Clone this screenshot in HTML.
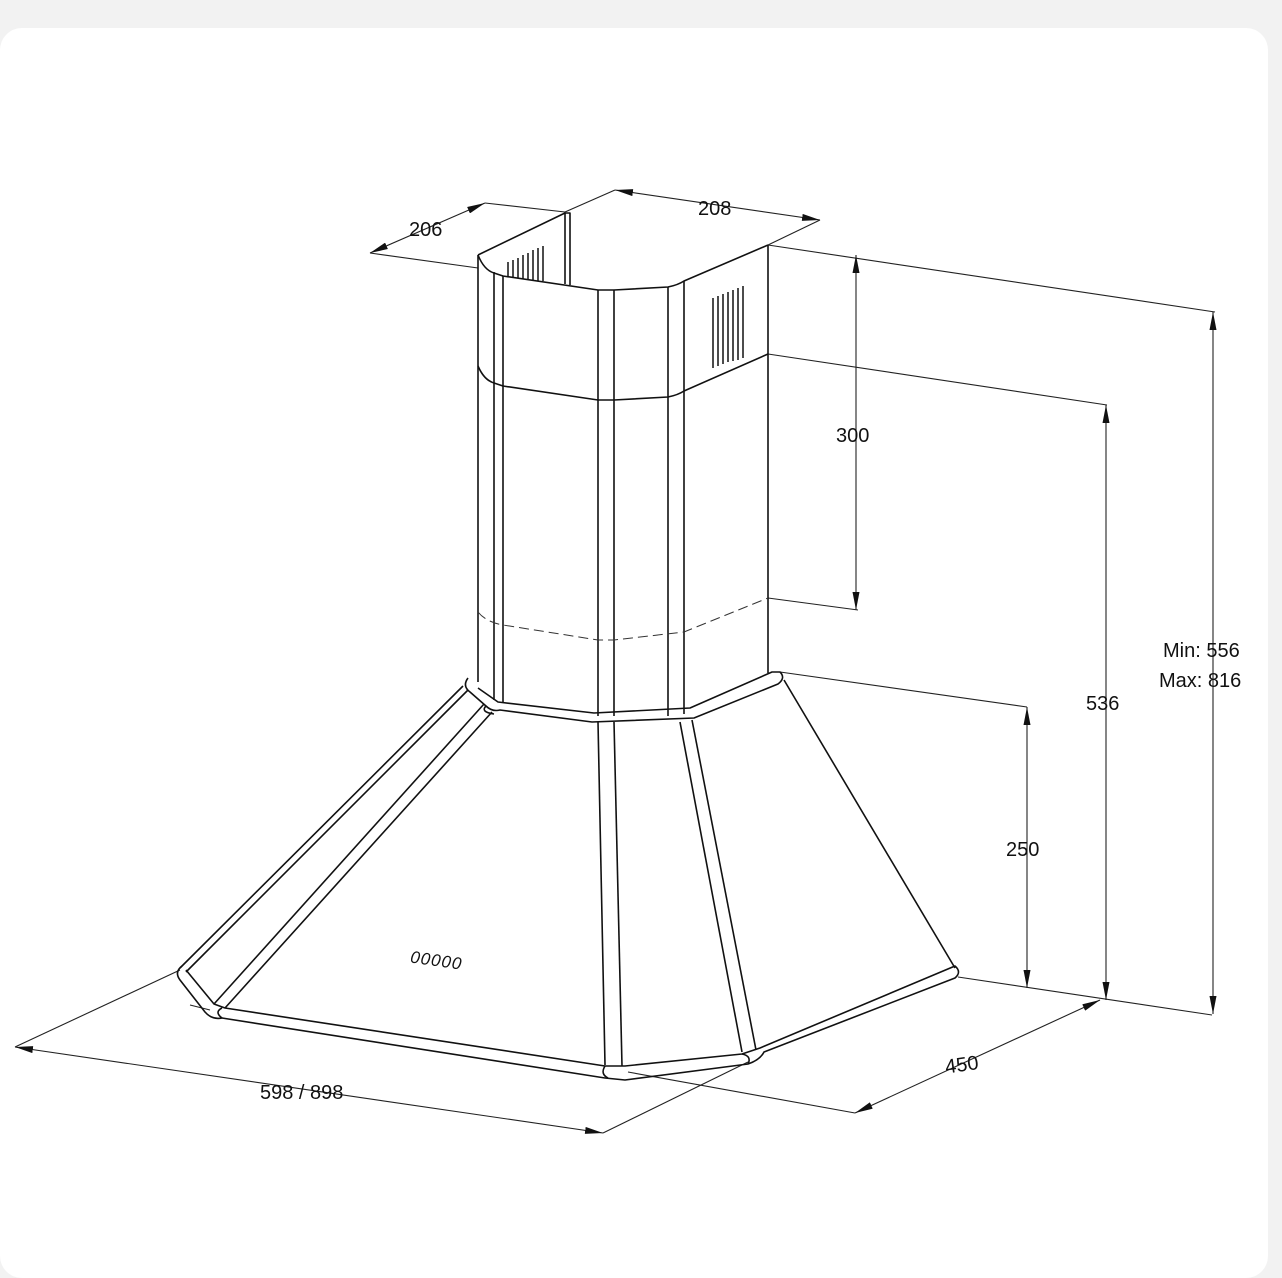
<!DOCTYPE html>
<html><head><meta charset="utf-8"><style>
html,body{margin:0;padding:0;background:#f2f2f2;}
body{width:1282px;height:1259px;position:relative;overflow:hidden;}
.card{position:absolute;left:0;top:28px;width:1268px;height:1250px;background:#fff;border-radius:22px;}
svg{position:absolute;left:0;top:0;}
text{font-family:"Liberation Sans",Arial,sans-serif;font-size:20px;fill:#111;}
</style></head><body>
<div class="card"></div>
<svg width="1282" height="1259" viewBox="0 0 1282 1259">
<defs>
<marker id="a" viewBox="0 0 18 7" refX="18" refY="3.5" markerWidth="18" markerHeight="7" orient="auto-start-reverse" markerUnits="userSpaceOnUse"><path d="M0,0 L18,3.5 L0,7 z" fill="#111"/></marker>
</defs>
<g fill="none" stroke="#222" stroke-width="1.1">
<line x1="370" y1="253" x2="478" y2="268"/>
<line x1="485" y1="203" x2="565" y2="212"/>
<line x1="565" y1="212" x2="615" y2="190"/>
<line x1="768" y1="245" x2="820" y2="220"/>
<line x1="768" y1="245" x2="1215" y2="312"/>
<line x1="768" y1="354" x2="1107" y2="405"/>
<line x1="768" y1="598" x2="858" y2="610"/>
<line x1="780" y1="672" x2="1027" y2="707"/>
<line x1="958" y1="977" x2="1212" y2="1015"/>
<line x1="180" y1="970" x2="15" y2="1047"/>
<line x1="748" y1="1062" x2="603" y2="1133"/>
<line x1="628" y1="1072" x2="855" y2="1113"/>
<line x1="210" y1="1010" x2="190" y2="1005"/>
<line x1="370" y1="253" x2="485" y2="203" marker-start="url(#a)" marker-end="url(#a)"/>
<line x1="615" y1="190" x2="820" y2="220" marker-start="url(#a)" marker-end="url(#a)"/>
<line x1="856" y1="255" x2="856" y2="610" marker-start="url(#a)" marker-end="url(#a)"/>
<line x1="1106" y1="405" x2="1106" y2="1000" marker-start="url(#a)" marker-end="url(#a)"/>
<line x1="1213" y1="312" x2="1213" y2="1014" marker-start="url(#a)" marker-end="url(#a)"/>
<line x1="1027" y1="707" x2="1027" y2="988" marker-start="url(#a)" marker-end="url(#a)"/>
<line x1="855" y1="1113" x2="1100" y2="1000" marker-start="url(#a)" marker-end="url(#a)"/>
<line x1="15" y1="1047" x2="603" y2="1133" marker-start="url(#a)" marker-end="url(#a)"/>
</g>
<g fill="none" stroke="#111" stroke-width="1.6" stroke-linejoin="round">
<path d="M478,255 L565,213 L570,213 L570,285"/>
<line x1="565" y1="213" x2="565" y2="284"/>
<path d="M478,255 Q484,270 494,273 L503,276 L598,290 L614,290 L668,287 Q678,285 684,281 L768,245"/>
<path d="M478,366 Q484,380 494,383 L503,386 L598,400 L614,400 L668,397 Q678,395 684,391 L768,354"/>
<line x1="478" y1="255" x2="478" y2="682"/>
<line x1="494" y1="272" x2="494" y2="700"/>
<line x1="503" y1="276" x2="503" y2="702"/>
<line x1="598" y1="290" x2="598" y2="716"/>
<line x1="614" y1="290" x2="614" y2="716"/>
<line x1="668" y1="287" x2="668" y2="716"/>
<line x1="684" y1="281" x2="684" y2="714"/>
<line x1="768" y1="245" x2="768" y2="673"/>
<path d="M468,678 Q462,686 470,692 L486,706 Q492,712 500,710 L592,722 L694,718 L778,684 Q786,678 780,672 L772,672 L690,708 L594,713 L498,702 L478,688"/>
<path d="M486,706 Q480,712 494,714"/>
<line x1="463" y1="686" x2="180" y2="968"/>
<line x1="468" y1="690" x2="186" y2="972"/>
<line x1="484" y1="704" x2="214" y2="1004"/>
<line x1="492" y1="712" x2="225" y2="1008"/>
<line x1="784" y1="680" x2="955" y2="968"/>
<line x1="598" y1="722" x2="605" y2="1065"/>
<line x1="614" y1="722" x2="622" y2="1066"/>
<line x1="680" y1="722" x2="742" y2="1052"/>
<line x1="692" y1="720" x2="756" y2="1050"/>
<path d="M182,966 Q174,972 180,980 L205,1012 Q212,1020 222,1018 L605,1078 L625,1080 L748,1064 Q760,1060 764,1052 L955,978 Q962,972 955,966 L760,1048 L742,1054 L625,1066 L605,1066 L225,1008 L214,1004 L186,970"/>
<path d="M222,1008 Q214,1012 222,1018"/>
<path d="M605,1066 Q600,1074 608,1078"/>
<path d="M742,1054 Q752,1056 748,1064"/>
</g>
<g fill="none" stroke="#111" stroke-width="1.5">
<path d="M508,277 V262 M513,277 V260 M518,278 V258 M523,279 V255 M528,279 V253 M533,280 V250 M538,281 V248 M543,281 V246"/>
<path d="M713,368 V298 M718,366 V296 M723,364 V294 M728,362 V292 M733,361 V290 M738,360 V288 M743,358 V286"/>
</g>
<path d="M478,612 Q486,622 503,625 L598,640 L614,640 L684,632 L768,598" fill="none" stroke="#333" stroke-width="1" stroke-dasharray="10,5"/>
<text x="409" y="236">206</text>
<text x="698" y="215">208</text>
<text x="836" y="442">300</text>
<text x="1086" y="710">536</text>
<text x="1006" y="856">250</text>
<text x="1163" y="657">Min: 556</text>
<text x="1159" y="687">Max: 816</text>
<text x="945" y="1071" transform="rotate(-8 964 1064)">450</text>
<text x="260" y="1099">598 / 898</text>
<text x="410" y="968" transform="rotate(8 450 963)" style="font-style:italic;font-size:17px;letter-spacing:1px">00000</text>
</svg>
</body></html>
